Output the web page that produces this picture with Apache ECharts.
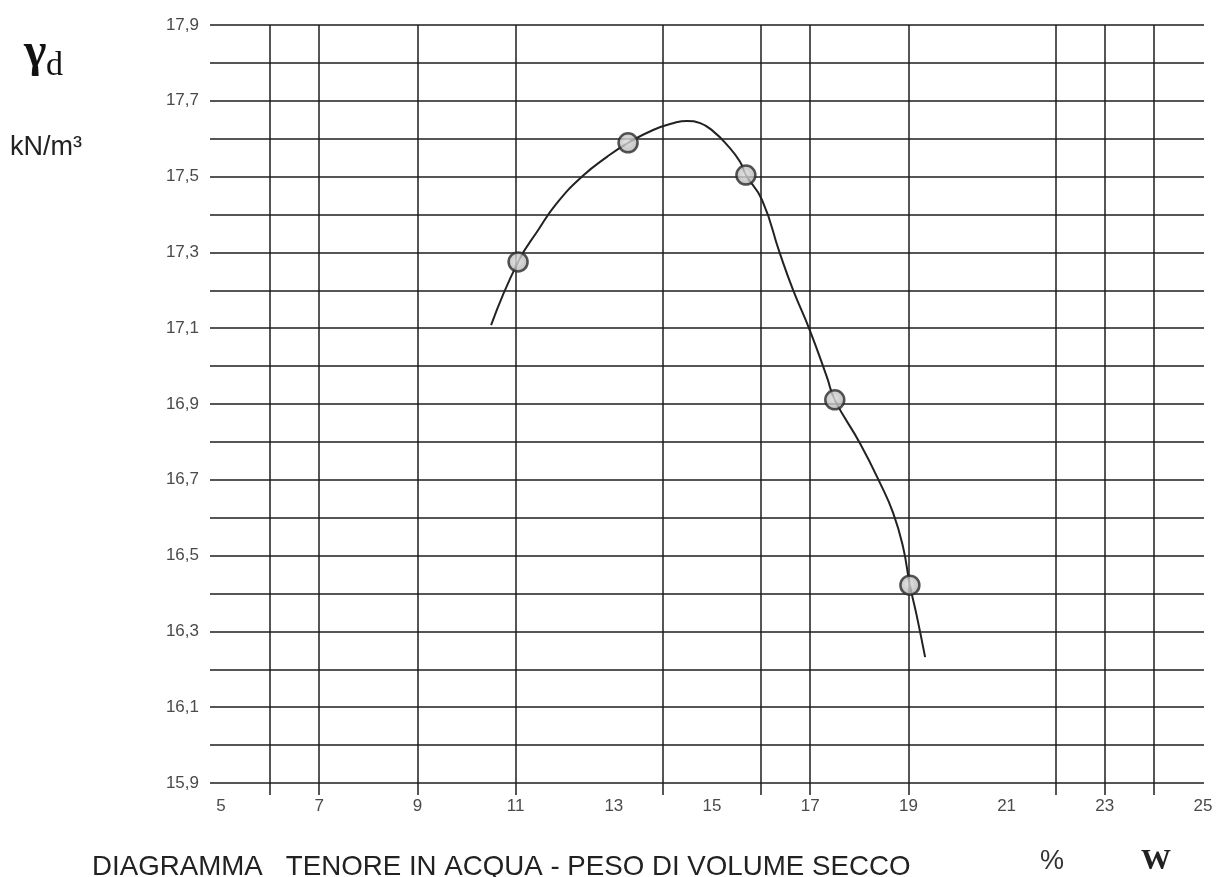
<!DOCTYPE html>
<html>
<head>
<meta charset="utf-8">
<script src="https://cdn.jsdelivr.net/npm/echarts@6/dist/echarts.min.js"></script>
<style>
  html, body { margin: 0; padding: 0; background: #ffffff; }
  #chart { width: 1221px; height: 877px; }
</style>
</head>
<body>
<div id="chart"></div>
<script>
// ---- data ----
const xLabelValues = [5, 7, 9, 11, 13, 15, 17, 19, 21, 23, 25];
const xGridValues = [6, 7, 9, 11, 14, 16, 17, 19, 22, 23, 24];
const yMin = 15.9;
const yMax = 17.9;
const yStep = 0.1;

// fitted compaction curve (water content %, dry unit weight kN/m3)
const curveW = [10.50, 11.05, 11.46, 11.84, 12.37, 12.86, 13.29, 13.80, 14.21, 14.49, 14.76, 15.02, 15.31, 15.57, 15.69, 16.02, 16.38, 16.65, 16.99, 17.34, 17.50, 18.01, 18.42, 18.69, 18.89, 19.03, 19.17, 19.34];
const curveGamma = [17.108, 17.275, 17.359, 17.430, 17.502, 17.552, 17.589, 17.623, 17.641, 17.647, 17.641, 17.620, 17.583, 17.539, 17.504, 17.438, 17.298, 17.201, 17.095, 16.971, 16.911, 16.797, 16.692, 16.612, 16.523, 16.422, 16.341, 16.232];

// measured points
const pointW = [11.05, 13.29, 15.69, 17.50, 19.03];
const pointGamma = [17.275, 17.589, 17.504, 16.911, 16.422];

const titleText = 'DIAGRAMMA   TENORE IN ACQUA - PESO DI VOLUME SECCO';

const chart = echarts.init(document.getElementById('chart'), null, { renderer: 'canvas' });

const gridColor = '#1e1e1e';
const labelColor = '#4a4a4a';

const option = {
  animation: false,
  backgroundColor: '#ffffff',
  grid: { left: 210, right: 17, top: 25, bottom: 94, containLabel: false },
  xAxis: {
    type: 'value',
    min: 4.775,
    max: 25.02,
    axisLine: { show: false },
    splitLine: { show: false },
    axisTick: {
      show: true,
      customValues: xGridValues,
      length: 12,
      lineStyle: { color: gridColor, width: 1.5 }
    },
    axisLabel: {
      customValues: xLabelValues,
      margin: 15,
      fontSize: 17,
      color: labelColor,
      fontFamily: 'Liberation Sans, Arial, sans-serif',
      formatter: v => String(Math.round(v))
    }
  },
  yAxis: {
    type: 'value',
    min: yMin,
    max: yMax,
    interval: yStep,
    axisLine: { show: false },
    axisTick: { show: false },
    splitLine: { show: true, lineStyle: { color: gridColor, width: 1.5 } },
    axisLabel: {
      margin: 11,
      fontSize: 17,
      color: labelColor,
      fontFamily: 'Liberation Sans, Arial, sans-serif',
      formatter: function (v) {
        const k = Math.round(v * 10);
        if (k % 2 === 0) return '';
        return (k / 10).toFixed(1).replace('.', ',');
      }
    }
  },
  series: [
    {
      type: 'line',
      data: curveW.map((w, i) => [w, curveGamma[i]]),
      smooth: 0.5,
      showSymbol: false,
      symbol: 'none',
      lineStyle: { color: '#222222', width: 2 },
      z: 3,
      markLine: {
        silent: true,
        symbol: ['none', 'none'],
        label: { show: false },
        lineStyle: { type: 'solid', color: gridColor, width: 1.5 },
        emphasis: { disabled: true },
        data: xGridValues.map(v => [{ coord: [v, yMin] }, { coord: [v, yMax] }])
      }
    },
    {
      type: 'scatter',
      data: pointW.map((w, i) => [w, pointGamma[i]]),
      symbol: 'circle',
      symbolSize: 19,
      itemStyle: {
        color: {
          type: 'radial', x: 0.45, y: 0.45, r: 0.6,
          colorStops: [
            { offset: 0, color: '#dcdcdc' },
            { offset: 1, color: '#a9a9a9' }
          ]
        },
        borderColor: '#2a2a2a',
        borderWidth: 2.5
      },
      z: 5
    }
  ],
  graphic: [
    {
      type: 'text', left: 24, top: 30,
      style: { text: 'γ', font: 'bold 48px "Liberation Serif", serif', fill: '#111' }
    },
    {
      type: 'text', left: 46, top: 49,
      style: { text: 'd', font: '34px "Liberation Serif", serif', fill: '#111' }
    },
    {
      type: 'text', left: 10, top: 134,
      style: { text: 'kN/m³', font: '27px "Liberation Sans", Arial, sans-serif', fill: '#222' }
    },
    {
      type: 'text', left: 92, top: 853,
      style: { text: titleText, font: '27.7px "Liberation Sans", Arial, sans-serif', fill: '#222' }
    },
    {
      type: 'text', left: 1040, top: 848,
      style: { text: '%', font: '27px "Liberation Sans", Arial, sans-serif', fill: '#333' }
    },
    {
      type: 'text', left: 1141, top: 846,
      style: { text: 'W', font: 'bold 30px "Liberation Serif", serif', fill: '#222' }
    }
  ]
};

chart.setOption(option);
</script>
</body>
</html>
